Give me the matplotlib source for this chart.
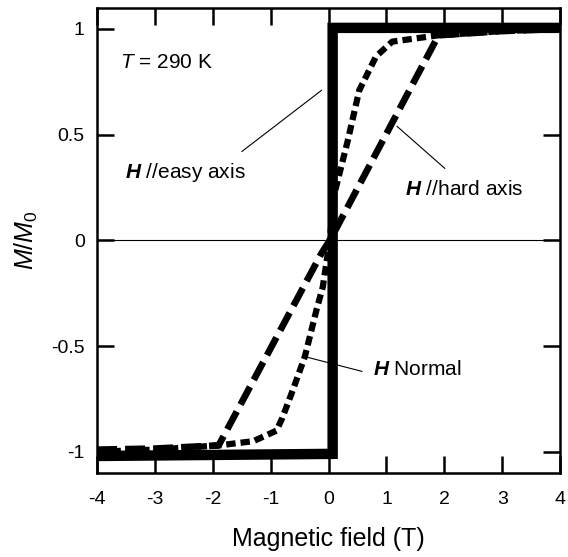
import matplotlib
matplotlib.use("Agg")
import matplotlib.pyplot as plt

plt.rcParams['font.family'] = ['Liberation Sans', 'DejaVu Sans']
plt.rcParams['mathtext.fontset'] = 'custom'
plt.rcParams['mathtext.rm'] = 'Liberation Sans'
plt.rcParams['mathtext.it'] = 'Liberation Sans:italic'
plt.rcParams['mathtext.bf'] = 'Liberation Sans:bold'
plt.rcParams['mathtext.bfit'] = 'Liberation Sans:bold:italic'
plt.rcParams['axes.unicode_minus'] = False

# easy axis (square loop)
easy_h = [-4, 0.07, 0.07, 4]
easy_m = [-1.02, -1.01, 1.005, 1.005]

# hard axis
hard_h = [-4, -3, -1.9, -0.12, 0.02, 0.14, 1.9, 3, 4]
hard_m = [-0.99, -0.985, -0.97, -0.06, 0.0, 0.06, 0.97, 0.99, 1.0]

# normal direction
norm_h = [-4, -3, -1.9, -1.3, -0.9, -0.8, -0.62, -0.41, -0.21, -0.1, 0.02,
          0.1, 0.33, 0.53, 0.82, 1.1, 1.9, 3, 4]
norm_m = [-1.0, -0.99, -0.97, -0.95, -0.90, -0.84, -0.71, -0.55, -0.33, -0.22, 0.0,
          0.22, 0.47, 0.71, 0.87, 0.94, 0.97, 0.99, 1.0]

fig = plt.figure(figsize=(5.68, 5.57), dpi=100)
ax = fig.add_axes([0.171, 0.151, 0.815, 0.835])

ax.axhline(0, color='black', lw=0.8)
ax.plot(norm_h, norm_m, color='black', lw=4.5, dashes=(1.5, 0.8))
ax.plot(hard_h, hard_m, color='black', lw=4.8, dashes=(3.0, 1.2))
ax.plot(easy_h, easy_m, color='black', lw=7.5, solid_joinstyle='miter')

ax.set_xlim(-4, 4)
ax.set_ylim(-1.1, 1.1)
ax.set_xticks([-4, -3, -2, -1, 0, 1, 2, 3, 4])
ax.set_yticks([-1, -0.5, 0, 0.5, 1])
ax.set_yticklabels(['-1', '-0.5', '0', '0.5', '1'])
ax.tick_params(direction='in', top=True, right=True, length=12, width=1.8,
               labelsize=14)
ax.tick_params(axis='x', pad=13)
ax.tick_params(axis='y', pad=9)
for s in ax.spines.values():
    s.set_linewidth(1.8)

ax.set_xlabel('Magnetic field (T)', fontsize=18, labelpad=14)
ax.set_ylabel(r'$M/M_0$', fontsize=18, labelpad=8)

ax.text(-3.6, 0.84, r'$T$ = 290 K', fontsize=15, va='center')

# label leaders
ax.annotate('', xy=(-0.12, 0.71), xytext=(-1.5, 0.42),
            arrowprops=dict(arrowstyle='-', lw=0.8, color='black', shrinkA=0, shrinkB=0))
ax.annotate('', xy=(1.18, 0.54), xytext=(2.01, 0.34),
            arrowprops=dict(arrowstyle='-', lw=0.8, color='black', shrinkA=0, shrinkB=0))
ax.annotate('', xy=(-0.41, -0.55), xytext=(0.58, -0.62),
            arrowprops=dict(arrowstyle='-', lw=0.8, color='black', shrinkA=0, shrinkB=0))

ax.text(-3.52, 0.32, r'$\mathbfit{H}$ //easy axis', fontsize=15, va='center')
ax.text(3.36, 0.24, r'$\mathbfit{H}$ //hard axis', fontsize=15, va='center', ha='right')
ax.text(0.77, -0.61, r'$\mathbfit{H}$ Normal', fontsize=15, va='center')

fig.savefig('out.png', dpi=100)
